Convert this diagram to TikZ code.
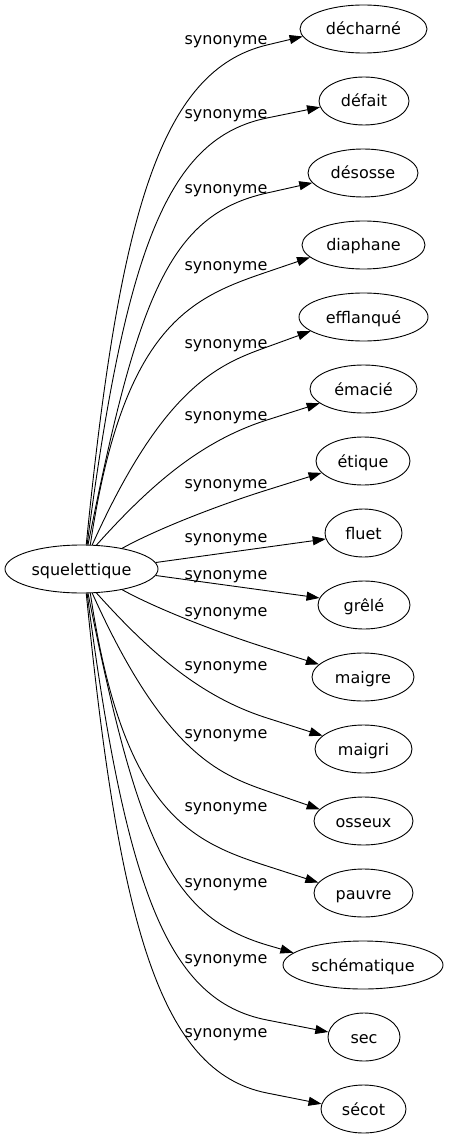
\documentclass[tikz,border=0pt]{standalone}
\usepackage{fontspec}
\setmainfont{DejaVu Sans}
\usetikzlibrary{shapes.geometric,arrows.meta}
\tikzset{
  wnode/.style={ellipse, draw, line width=0.9pt, inner sep=0pt, minimum height=48pt,
    text height=13pt, text depth=1pt, font=\fontsize{16}{19}\selectfont},
  lbl/.style={anchor=base, inner sep=0pt, font=\fontsize{16}{19}\selectfont},
  edge/.style={draw, line width=0.9pt, -{Triangle[length=13pt,width=9pt]}},
}
\begin{document}
\begin{tikzpicture}[x=1pt,y=1pt]
\path[use as bounding box] (0,0) rectangle (449,-1139);
\node[wnode, minimum width=153pt] (s) at (81.5,-569) {squelettique};
\node[wnode, minimum width=127pt] (t1) at (363.5,-29) {décharné};
\node[wnode, minimum width=90pt] (t2) at (364,-101) {défait};
\node[wnode, minimum width=110pt] (t3) at (363,-173) {désosse};
\node[wnode, minimum width=123pt] (t4) at (363.5,-245) {diaphane};
\node[wnode, minimum width=129pt] (t5) at (363.5,-317) {efflanqué};
\node[wnode, minimum width=107pt] (t6) at (363.5,-389) {émacié};
\node[wnode, minimum width=94pt] (t7) at (363,-461) {étique};
\node[wnode, minimum width=77pt] (t8) at (363.5,-533) {fluet};
\node[wnode, minimum width=92pt] (t9) at (364,-605) {grêlé};
\node[wnode, minimum width=102pt] (t10) at (363,-677) {maigre};
\node[wnode, minimum width=97pt] (t11) at (363.5,-749) {maigri};
\node[wnode, minimum width=99pt] (t12) at (363.5,-821) {osseux};
\node[wnode, minimum width=99pt] (t13) at (363.5,-893) {pauvre};
\node[wnode, minimum width=160pt] (t14) at (363,-965) {schématique};
\node[wnode, minimum width=72pt] (t15) at (364,-1037) {sec};
\node[wnode, minimum width=85pt] (t16) at (363.5,-1109) {sécot};

\node[lbl] (l1) at (226,-45) {synonyme};
\node[lbl] (l2) at (226,-119) {synonyme};
\node[lbl] (l3) at (226,-194) {synonyme};
\node[lbl] (l4) at (226,-270.5) {synonyme};
\node[lbl] (l5) at (226,-348.5) {synonyme};
\node[lbl] (l6) at (226,-420.5) {synonyme};
\node[lbl] (l7) at (226,-488.5) {synonyme};
\node[lbl] (l8) at (226,-542.7) {synonyme};
\node[lbl] (l9) at (226,-579.3) {synonyme};
\node[lbl] (l10) at (226,-616) {synonyme};
\node[lbl] (l11) at (226,-670.5) {synonyme};
\node[lbl] (l12) at (226,-738.5) {synonyme};
\node[lbl] (l13) at (226,-811.5) {synonyme};
\node[lbl] (l14) at (226,-887.5) {synonyme};
\node[lbl] (l15) at (226,-963.5) {synonyme};
\node[lbl] (l16) at (226,-1037.5) {synonyme};

% upper edges
\draw[edge] (s.79) .. controls (119,-215) and (160,-70.5) .. (267,-45) -- (t1.187);
\draw[edge] (s.77) .. controls (126,-245) and (169,-138) .. (267,-118) -- (t2.188);
\draw[edge] (s.75) .. controls (138,-295) and (169.4,-214.7) .. (267,-193) -- (t3.191);
\draw[edge] (s.70) .. controls (123,-325) and (191.2,-297.7) .. (267,-272) -- (t4.193);
\draw[edge] (s.66) .. controls (164,-385) and (220,-364) .. (267,-347) -- (t5.195);
\draw[edge] (s.58) .. controls (150,-485.5) and (200.3,-441.2) .. (267,-420) -- (t6.198);
\draw[edge] (s.27) .. controls (157,-529) and (219,-505) .. (267,-490) -- (t7.196);
% middle edges
\draw[edge] (s.5) -- (t8.189);
\draw[edge] (s.-5) -- (t9.171);
% lower edges
\draw[edge] (s.-27) .. controls (157,-609) and (219.3,-633) .. (267,-648) -- (t10.164);
\draw[edge] (s.-58) .. controls (150,-652.5) and (200.3,-696.8) .. (267,-718) -- (t11.162);
\draw[edge] (s.-66) .. controls (164,-753) and (219.7,-774.6) .. (267,-791) -- (t12.165);
\draw[edge] (s.-70) .. controls (123,-813) and (190.8,-841.4) .. (267,-866) -- (t13.167);
\draw[edge] (s.-75) .. controls (138,-843) and (171.1,-916.6) .. (267,-945) -- (t14.170);
\draw[edge] (s.-77) .. controls (126,-893) and (168.8,-1000.9) .. (267,-1020) -- (t15.172);
\draw[edge] (s.-79) .. controls (119,-923) and (159.1,-1071.7) .. (267,-1093) -- (t16.173);
\end{tikzpicture}
\end{document}
